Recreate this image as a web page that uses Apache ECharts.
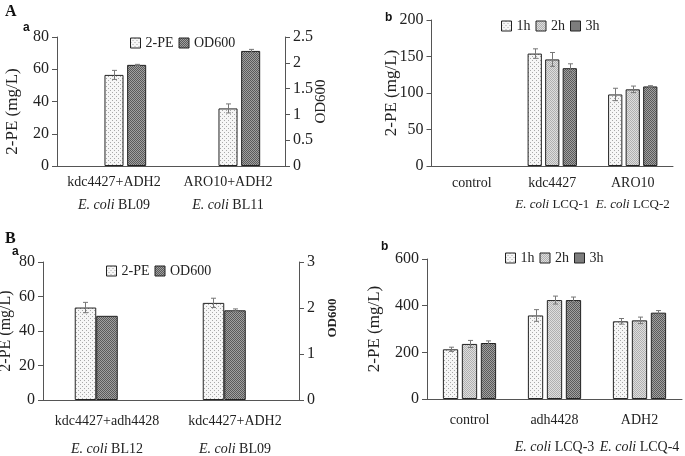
<!DOCTYPE html>
<html><head><meta charset="utf-8">
<script src="https://cdn.jsdelivr.net/npm/echarts@6/dist/echarts.min.js"></script>
<style>html,body{margin:0;padding:0;background:#fff}#c{width:685px;height:456px}</style>
</head><body><div id="c"></div>
<script>
// ---------- Panel A-a ----------
const aaCategories = ['kdc4427+ADH2', 'ARO10+ADH2'];
const aaStrains = ['BL09', 'BL11'];
const aaPE = [56.5, 35.7];
const aaPEErr = [2.8, 2.8];
const aaOD = [1.96, 2.23];
const aaODErr = [0.01, 0.03];
const aaLeftTicks = [0, 80, 20];
const aaRightTicks = [0, 2.5, 0.5];

// ---------- Panel A-b ----------
const abCategories = ['control', 'kdc4427', 'ARO10'];
const abStrains = ['', 'LCQ-1', 'LCQ-2'];
const ab1h = [null, 154, 98];
const ab1hErr = [null, 6.5, 8.5];
const ab2h = [null, 146, 105];
const ab2hErr = [null, 9.5, 4.5];
const ab3h = [null, 134, 109];
const ab3hErr = [null, 6, 1];
const abTicks = [0, 200, 50];

// ---------- Panel B-a ----------
const baCategories = ['kdc4427+adh4428', 'kdc4427+ADH2'];
const baStrains = ['BL12', 'BL09'];
const baPE = [53.6, 56.3];
const baPEErr = [3, 2.7];
const baOD = [1.83, 1.95];
const baODErr = [0, 0.03];
const baLeftTicks = [0, 80, 20];
const baRightTicks = [0, 3, 1];

// ---------- Panel B-b ----------
const bbCategories = ['control', 'adh4428', 'ADH2'];
const bbStrains = ['', 'LCQ-3', 'LCQ-4'];
const bb1h = [213, 358, 333];
const bb1hErr = [9, 25, 12];
const bb2h = [236, 424, 337];
const bb2hErr = [15, 17, 14];
const bb3h = [240, 424, 370];
const bb3hErr = [9, 13, 9];
const bbTicks = [0, 600, 200];

const SERIF = "'Liberation Serif','Times New Roman',serif";
const SANS = "'Liberation Sans',Arial,sans-serif";
const AX = '#555';
const TXT = '#222';

function pattern(kind) {
  const c = document.createElement('canvas');
  const g = c.getContext('2d');
  if (kind === 'light') {
    c.width = 4; c.height = 4;
    g.fillStyle = '#f6f6f6'; g.fillRect(0, 0, 4, 4);
    g.fillStyle = '#a8a8a8'; g.fillRect(0, 0, 1, 1); g.fillRect(2, 2, 1, 1);
  } else if (kind === 'mid') {
    c.width = 2; c.height = 2;
    g.fillStyle = '#dedede'; g.fillRect(0, 0, 2, 2);
    g.fillStyle = '#b0b0b0'; g.fillRect(0, 0, 1, 1); g.fillRect(1, 1, 1, 1);
  } else {
    c.width = 2; c.height = 2;
    g.fillStyle = '#a0a0a0'; g.fillRect(0, 0, 2, 2);
    g.fillStyle = '#5a5a5a'; g.fillRect(0, 0, 1, 1); g.fillRect(1, 1, 1, 1);
  }
  return { image: c, repeat: 'repeat' };
}
const P_LIGHT = pattern('light'), P_MID = pattern('mid'), P_DARK = pattern('dark');

function xAx(gi, cats, strains, lh, margin, fs2) {
  const base = { fontFamily: SERIF, fontSize: 14, color: TXT, lineHeight: lh };
  const second = Object.assign({}, base, { fontSize: fs2 || 14 });
  return {
    type: 'category', gridIndex: gi, data: cats,
    axisLine: { lineStyle: { color: AX } },
    axisTick: { length: 5, lineStyle: { color: AX } },
    axisLabel: {
      margin: margin, interval: 0,
      formatter: (v, i) => strains[i] ? `{a|${v}}\n{i|E. coli}{b| ${strains[i]}}` : `{a|${v}}`,
      rich: { a: base, b: second, i: Object.assign({}, second, { fontStyle: 'italic' }) }
    }
  };
}
function yAx(gi, t, pos, name, nameGap, nameStyle) {
  return {
    type: 'value', gridIndex: gi, position: pos, min: t[0], max: t[1], interval: t[2],
    splitLine: { show: false },
    axisLine: { show: true, lineStyle: { color: AX } },
    axisTick: { show: true, length: 5, lineStyle: { color: AX } },
    axisLabel: { margin: 8, fontFamily: SERIF, fontSize: 16, color: TXT },
    name: name, nameLocation: 'middle', nameGap: nameGap, nameRotate: 90,
    nameMoveOverlap: false,
    nameTextStyle: Object.assign({ fontFamily: SERIF, fontSize: 17, color: TXT }, nameStyle || {})
  };
}
const BORDER = { borderColor: '#222', borderWidth: 1 };
function bar(name, xi, yi, vals, fill, width, gap) {
  return {
    type: 'bar', name: name, xAxisIndex: xi, yAxisIndex: yi,
    data: vals.map(v => v == null ? '-' : v),
    barWidth: width, barGap: gap,
    itemStyle: Object.assign({ color: fill }, BORDER)
  };
}
function errBars(xi, yi, vals, errs, slot, n, pct, gapPct) {
  const data = [];
  vals.forEach((v, i) => { if (v != null && errs[i]) data.push([i, v, errs[i]]); });
  return {
    type: 'custom', xAxisIndex: xi, yAxisIndex: yi, z: 5, silent: true,
    data: data, encode: { x: 0, y: 1 },
    renderItem(params, api) {
      const cat = api.value(0), v = api.value(1), e = api.value(2);
      const band = api.size([1, 0])[0];
      const bw = band * pct, gw = bw * gapPct;
      const total = n * bw + (n - 1) * gw;
      const off = -total / 2 + slot * (bw + gw) + bw / 2;
      const cx = Math.round(api.coord([cat, v])[0] + off) + 0.5;
      const yt = api.coord([cat, v + e])[1], yb = api.coord([cat, v - e])[1];
      const h = 2.5;
      const st = { stroke: '#777', lineWidth: 1 };
      return { type: 'group', children: [
        { type: 'line', shape: { x1: cx, y1: yt, x2: cx, y2: yb }, style: st },
        { type: 'line', shape: { x1: cx - h, y1: yt, x2: cx + h, y2: yt }, style: st },
        { type: 'line', shape: { x1: cx - h, y1: yb, x2: cx + h, y2: yb }, style: st }
      ]};
    }
  };
}
function legend(left, top, names) {
  return {
    left: left, top: top, padding: 0, data: names, icon: 'rect',
    itemWidth: 10, itemHeight: 10, itemGap: 5, selectedMode: false,
    itemStyle: { borderColor: '#222', borderWidth: 1 },
    textStyle: { fontFamily: SERIF, fontSize: 14, color: TXT }
  };
}

// bar layout per panel: width fraction of category, gap fraction of bar width
const AA_W = 0.167, AA_G = 0.19;
const AB_W = 0.177, AB_G = 0.23;
const BA_W = 0.168, BA_G = 0;
const BB_W = 0.18, BB_G = 0.24;
const pct = f => (f * 100) + '%';

const option = {
  animation: false,
  backgroundColor: '#fff',
  grid: [
    { left: 57, top: 37, width: 228, height: 129, outerBoundsMode: 'none' },
    { left: 431.5, top: 20, width: 241.5, height: 146, outerBoundsMode: 'none' },
    { left: 43, top: 262, width: 256, height: 138, outerBoundsMode: 'none' },
    { left: 427, top: 259, width: 255, height: 140, outerBoundsMode: 'none' }
  ],
  xAxis: [
    xAx(0, aaCategories, aaStrains, 23, 5, 14),
    xAx(1, abCategories, abStrains, 22, 6, 13),
    xAx(2, baCategories, baStrains, 28, 7, 14),
    xAx(3, bbCategories, bbStrains, 27, 8, 14)
  ],
  yAxis: [
    yAx(0, aaLeftTicks, 'left', '2-PE (mg/L)', 36, { padding: [0, 20, 0, 0] }),
    yAx(0, aaRightTicks, 'right', 'OD600', 29, { fontSize: 15 }),
    yAx(1, abTicks, 'left', '2-PE (mg/L)', 31),
    yAx(2, baLeftTicks, 'left', '2-PE (mg/L)', 29, { fontSize: 16 }),
    yAx(2, baRightTicks, 'right', 'OD600', 27, { fontSize: 13, fontWeight: 'bold', padding: [0, 0, 0, 26] }),
    yAx(3, bbTicks, 'left', '2-PE (mg/L)', 44)
  ],
  legend: [
    legend(130, 36, ['2-PE', 'OD600']),
    legend(501, 19, ['1h', '2h', '3h']),
    legend(106, 264, ['2-PE', 'OD600']),
    legend(505, 251, ['1h', '2h', '3h'])
  ],
  graphic: [
    { type: 'text', left: 5, top: 4, style: { text: 'A', font: 'bold 16px ' + SERIF, fill: '#111' } },
    { type: 'text', left: 23, top: 22, style: { text: 'a', font: 'bold 12px ' + SANS, fill: '#111' } },
    { type: 'text', left: 385, top: 12, style: { text: 'b', font: 'bold 12px ' + SANS, fill: '#111' } },
    { type: 'text', left: 5, top: 231, style: { text: 'B', font: 'bold 16px ' + SERIF, fill: '#111' } },
    { type: 'text', left: 12, top: 246, style: { text: 'a', font: 'bold 12px ' + SANS, fill: '#111' } },
    { type: 'text', left: 381, top: 241, style: { text: 'b', font: 'bold 12px ' + SANS, fill: '#111' } }
  ],
  series: [
    // A-a (first slot empty)
    bar('', 0, 0, aaPE.map(() => null), P_LIGHT, pct(AA_W), pct(AA_G)),
    bar('2-PE', 0, 0, aaPE, P_LIGHT, pct(AA_W), pct(AA_G)),
    bar('OD600', 0, 1, aaOD, P_DARK, pct(AA_W), pct(AA_G)),
    errBars(0, 0, aaPE, aaPEErr, 1, 3, AA_W, AA_G),
    errBars(0, 1, aaOD, aaODErr, 2, 3, AA_W, AA_G),
    // A-b
    bar('1h', 1, 2, ab1h, P_LIGHT, pct(AB_W), pct(AB_G)),
    bar('2h', 1, 2, ab2h, P_MID, pct(AB_W), pct(AB_G)),
    bar('3h', 1, 2, ab3h, P_DARK, pct(AB_W), pct(AB_G)),
    errBars(1, 2, ab1h, ab1hErr, 0, 3, AB_W, AB_G),
    errBars(1, 2, ab2h, ab2hErr, 1, 3, AB_W, AB_G),
    errBars(1, 2, ab3h, ab3hErr, 2, 3, AB_W, AB_G),
    // B-a (last slot empty)
    bar('2-PE', 2, 3, baPE, P_LIGHT, pct(BA_W), pct(BA_G)),
    bar('OD600', 2, 4, baOD, P_DARK, pct(BA_W), pct(BA_G)),
    bar('', 2, 3, baPE.map(() => null), P_LIGHT, pct(BA_W), pct(BA_G)),
    errBars(2, 3, baPE, baPEErr, 0, 3, BA_W, BA_G),
    errBars(2, 4, baOD, baODErr, 1, 3, BA_W, BA_G),
    // B-b
    bar('1h', 3, 5, bb1h, P_LIGHT, pct(BB_W), pct(BB_G)),
    bar('2h', 3, 5, bb2h, P_MID, pct(BB_W), pct(BB_G)),
    bar('3h', 3, 5, bb3h, P_DARK, pct(BB_W), pct(BB_G)),
    errBars(3, 5, bb1h, bb1hErr, 0, 3, BB_W, BB_G),
    errBars(3, 5, bb2h, bb2hErr, 1, 3, BB_W, BB_G),
    errBars(3, 5, bb3h, bb3hErr, 2, 3, BB_W, BB_G)
  ]
};
const chart = echarts.init(document.getElementById('c'), null, { renderer: 'canvas' });
chart.setOption(option);
</script>
</body></html>
